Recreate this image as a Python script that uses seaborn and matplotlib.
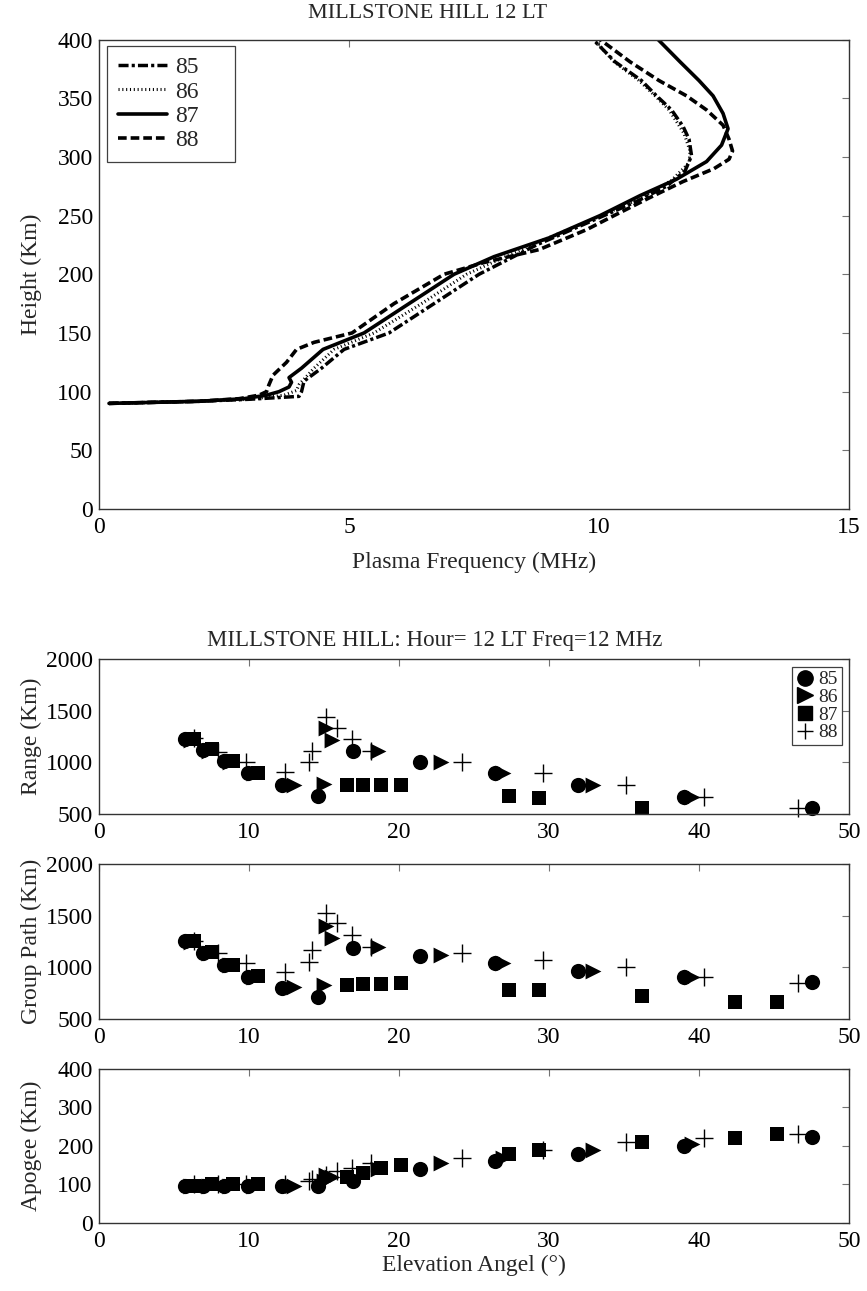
import numpy as np
import pandas as pd
import matplotlib
matplotlib.use("Agg")
import matplotlib.pyplot as plt
import seaborn as sns
from matplotlib.lines import Line2D

sns.set_theme(style="white")
plt.rcParams['font.family'] = ['Liberation Serif', 'DejaVu Serif']

years = ["85", "86", "87", "88"]

# ---- Electron density profiles (height in km, plasma frequency in MHz) ----
height_85 = [90, 90.8, 91.8, 93.5, 96, 100, 109, 120, 136, 150, 175, 200, 225, 250, 262,
             275, 288, 301, 315, 326, 340, 352, 365, 381, 400]
freq_85 = [0.2, 1.0, 2.0, 3.0, 4.0, 4.05, 4.1, 4.45, 4.9, 5.8, 6.7, 7.6, 8.75, 10.1, 10.75,
           11.35, 11.72, 11.85, 11.8, 11.68, 11.45, 11.15, 10.85, 10.32, 9.88]

height_86 = [90, 90.8, 91.8, 93.5, 97, 101, 106, 120, 136, 150, 175, 200, 225, 250, 265,
             280, 295, 305, 320, 340, 352, 365, 381, 400]
freq_86 = [0.2, 1.0, 2.0, 3.0, 3.7, 3.95, 4.0, 4.3, 4.7, 5.5, 6.45, 7.35, 8.65, 10.05, 10.85,
           11.45, 11.8, 11.82, 11.7, 11.4, 11.12, 10.8, 10.3, 9.9]

height_87 = [90, 90.8, 91.8, 94, 97, 100, 104, 108, 112, 120, 136, 150, 175, 200, 215, 231,
             250, 267, 281, 296, 310, 324, 337, 352, 365, 381, 400]
freq_87 = [0.2, 1.0, 2.0, 2.9, 3.35, 3.6, 3.8, 3.85, 3.8, 4.05, 4.48, 5.3, 6.2, 7.1, 7.9, 9.0,
           10.02, 10.82, 11.55, 12.15, 12.45, 12.58, 12.48, 12.28, 12.0, 11.62, 11.18]

height_88 = [90, 90.8, 91.8, 94, 97, 100, 106, 114, 125, 136, 142, 150, 175, 200, 210, 221,
             238, 250, 265, 279, 290, 298, 305, 315, 327, 340, 352, 365, 381, 400]
freq_88 = [0.2, 1.0, 2.0, 2.8, 3.2, 3.35, 3.4, 3.48, 3.75, 3.95, 4.3, 5.06, 5.9, 6.9, 7.7, 8.8,
           9.75, 10.3, 11.0, 11.68, 12.3, 12.6, 12.67, 12.6, 12.48, 12.15, 11.75, 11.2, 10.62, 10.02]

# ---- Ray tracing results at 12 MHz: elevation angle (deg) -> range, group path, apogee (km) ----
angle_85 = [5.7, 6.9, 8.3, 9.9, 12.2, 14.6, 16.9, 21.4, 26.4, 31.9, 39.0, 47.5]
range_85 = [1225, 1115, 1010, 895, 780, 670, 1105, 1005, 895, 780, 665, 555]
gpath_85 = [1250, 1135, 1025, 910, 800, 715, 1185, 1105, 1040, 960, 905, 860]
apogee_85 = [95, 95, 95, 95, 95, 95, 110, 140, 160, 180, 200, 222]

angle_86 = [6.1, 7.3, 8.7, 10.3, 13.0, 15.0, 15.1, 15.5, 18.6, 22.8, 26.9, 32.9, 39.5]
range_86 = [1220, 1110, 1005, 895, 785, 790, 1330, 1215, 1110, 1005, 895, 780, 665]
gpath_86 = [1245, 1135, 1025, 910, 805, 830, 1395, 1285, 1200, 1120, 1040, 968, 910]
apogee_86 = [97, 97, 97, 97, 97, 110, 125, 120, 140, 156, 170, 190, 205]

angle_87 = [6.3, 7.5, 8.9, 10.6, 16.5, 17.6, 18.8, 20.1, 27.3, 29.3, 36.2, 42.4, 45.2]
range_87 = [1225, 1125, 1010, 900, 785, 785, 785, 785, 670, 655, 555, np.nan, np.nan]
gpath_87 = [1250, 1150, 1025, 915, 830, 835, 840, 845, 780, 780, 725, 660, 660]
apogee_87 = [97, 100, 100, 100, 120, 130, 143, 151, 180, 190, 210, 220, 230]

angle_88 = [6.3, 7.9, 9.8, 12.4, 14.0, 14.2, 15.1, 15.85, 16.85, 18.1, 24.2, 29.6, 35.1, 40.3, 46.6]
range_88 = [1235, 1100, 1005, 910, 1005, 1110, 1440, 1330, 1230, 1110, 1005, 895, 780, 665, 555]
gpath_88 = [1250, 1136, 1039, 958, 1055, 1168, 1524, 1428, 1313, 1200, 1136, 1071, 1000, 910, 846]
apogee_88 = [100, 100, 100, 100, 110, 115, 125, 135, 142, 157, 170, 190, 210, 220, 230]

# ---- assemble long-form tables ----
profiles = pd.concat([
    pd.DataFrame({"freq": f, "height": h, "year": y})
    for y, f, h in zip(years, [freq_85, freq_86, freq_87, freq_88],
                       [height_85, height_86, height_87, height_88])
], ignore_index=True)

rays = pd.concat([
    pd.DataFrame({"angle": a, "range": r, "gpath": g, "apogee": ap, "year": y})
    for y, a, r, g, ap in zip(
        years,
        [angle_85, angle_86, angle_87, angle_88],
        [range_85, range_86, range_87, range_88],
        [gpath_85, gpath_86, gpath_87, gpath_88],
        [apogee_85, apogee_86, apogee_87, apogee_88])
], ignore_index=True)

# ---- styles ----
line_styles = {
    "85": dict(lw=2.5, dashes=(2.9, 0.9, 0.9, 0.9)),
    "86": dict(lw=2.2, dashes=(0.35, 0.9)),
    "87": dict(lw=2.6, dashes=None),
    "88": dict(lw=2.6, dashes=(2.4, 1.1)),
}
marker_styles = {
    "85": dict(marker="o", s=120),
    "86": dict(marker=">", s=130),
    "87": dict(marker="s", s=95),
    "88": dict(marker="+", s=150),
}

FS = 17
SPINE = "0.2"
W, H = 867, 1291
YLABEL_X = (42 - 99) / 750.0


def style_axes(ax):
    for sp in ax.spines.values():
        sp.set_color(SPINE)
        sp.set_linewidth(1.0)
    ax.tick_params(direction="in", length=5, width=0.8, color="0.45",
                   top=True, right=True, labelsize=FS, labelcolor="black")
    ax.tick_params(axis="x", pad=6)
    ax.tick_params(axis="y", pad=4.5)
    ax.grid(False)


fig = plt.figure(figsize=(W / 100, H / 100), dpi=100)
fig.patch.set_facecolor("white")

# ---- top panel: profiles ----
ax0 = fig.add_axes([0.1142, 0.6057, 0.8651, 0.3637])
for y in years:
    d = profiles[profiles["year"] == y]
    st = line_styles[y]
    sns.lineplot(data=d, x="freq", y="height", sort=False, estimator=None,
                 color="black", linewidth=st["lw"], ax=ax0, label=y)
    ln = ax0.lines[-1]
    if st["dashes"] is not None:
        ln.set_dashes(st["dashes"])
ax0.set_xlim(0, 15)
ax0.set_ylim(0, 400)
ax0.set_xticks([0, 5, 10, 15])
ax0.set_yticks(np.arange(0, 401, 50))
ax0.set_xlabel("Plasma Frequency (MHz)", fontsize=FS, labelpad=10)
ax0.set_ylabel("Height (Km)", fontsize=FS)
ax0.yaxis.set_label_coords(YLABEL_X, 0.5)
style_axes(ax0)
fig.text(428 / W, 1 - 14 / H, "MILLSTONE HILL 12 LT", fontsize=16,
         ha="center", va="center")

handles0 = []
for y in years:
    st = line_styles[y]
    h = Line2D([], [], color="black", lw=st["lw"])
    if st["dashes"] is not None:
        h.set_dashes(st["dashes"])
    handles0.append(h)
leg_w = 128 / 750.0
leg_h = 105 / 469.5
leg0 = ax0.legend(handles0, years, loc="upper left",
                  bbox_to_anchor=(0.0107, 0.986 - leg_h, leg_w, leg_h), mode="expand",
                  borderaxespad=0, fontsize=FS, handlelength=2.1, handletextpad=0.35,
                  labelspacing=0.12, borderpad=0.45, fancybox=False, framealpha=1)
leg0.get_frame().set_edgecolor("0.25")
leg0.get_frame().set_linewidth(0.9)

# ---- bottom three panels: ray tracing ----
panel_specs = [
    ("range", "Range (Km)", [0.3695, 0.1201], (500, 2000), [500, 1000, 1500, 2000]),
    ("gpath", "Group Path (Km)", [0.2107, 0.1201], (500, 2000), [500, 1000, 1500, 2000]),
    ("apogee", "Apogee (Km)", [0.0527, 0.1193], (0, 400), [0, 100, 200, 300, 400]),
]
axes = []
for col, lab, (b, hgt), ylim, yt in panel_specs:
    ax = fig.add_axes([0.1142, b, 0.8651, hgt])
    for y in years:
        d = rays[rays["year"] == y]
        ms = marker_styles[y]
        if ms["marker"] == "+":
            sns.scatterplot(data=d, x="angle", y=col, marker="+", s=ms["s"],
                            color="black", linewidth=1.0, ax=ax, clip_on=False)
        else:
            sns.scatterplot(data=d, x="angle", y=col, marker=ms["marker"], s=ms["s"],
                            color="black", edgecolor="black", linewidth=0,
                            ax=ax, clip_on=False)
    ax.set_xlim(0, 50)
    ax.set_ylim(*ylim)
    ax.set_xticks(np.arange(0, 51, 10))
    ax.set_yticks(yt)
    ax.set_ylabel(lab, fontsize=FS)
    ax.yaxis.set_label_coords(YLABEL_X, 0.5)
    ax.set_xlabel("")
    style_axes(ax)
    axes.append(ax)

fig.text(435 / W, 1 - 640 / H, "MILLSTONE HILL: Hour= 12 LT Freq=12 MHz", fontsize=16.5,
         ha="center", va="center")
axes[2].set_xlabel("Elevation Angel (\u00b0)", fontsize=FS, labelpad=2)

handles1 = [
    Line2D([], [], ls="", marker="o", ms=11, color="black", mec="black"),
    Line2D([], [], ls="", marker=">", ms=11, color="black", mec="black"),
    Line2D([], [], ls="", marker="s", ms=9.5, color="black", mec="black"),
    Line2D([], [], ls="", marker="+", ms=12, color="black", mew=1.0),
]
leg1 = axes[0].legend(handles1, years, loc="upper right", bbox_to_anchor=(0.9907, 0.948),
                      borderaxespad=0, fontsize=14, handlelength=0.9, handletextpad=0.25,
                      labelspacing=0.0, borderpad=0.2, fancybox=False, framealpha=1)
leg1.get_frame().set_edgecolor("0.25")
leg1.get_frame().set_linewidth(0.9)

fig.savefig("out.png", dpi=100, facecolor="white")
